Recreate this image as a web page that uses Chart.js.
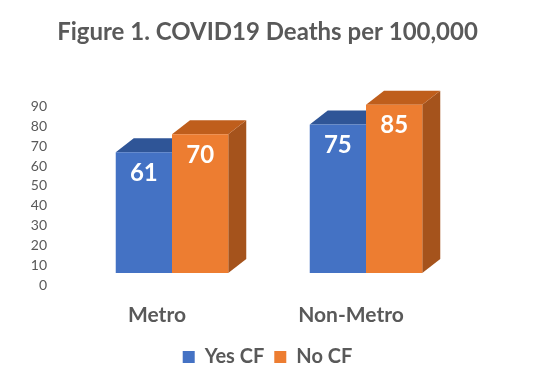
<!DOCTYPE html>
<html>
<head>
<meta charset="utf-8">
<script src="https://cdn.jsdelivr.net/npm/chart.js@4"></script>
<style>
  body { margin: 0; background: #fff; }
  #wrap { width: 538px; height: 388px; position: relative; }
</style>
</head>
<body>
<div id="wrap"><canvas id="myChart" width="538" height="388"></canvas></div>
<script>
// chart data
const categories = ['Metro', 'Non-Metro'];
const yesCF = [61, 75];
const noCF = [70, 85];
const seriesNames = ['Yes CF', 'No CF'];
const tickValues = [0, 10, 20, 30, 40, 50, 60, 70, 80, 90];

const FONT = 'Lato, "Open Sans", sans-serif';
const GREY = '#595959';

// draws the top and side faces so the bars look like excel 3D columns
const depthPlugin = {
    id: 'depth',
    beforeDatasetsDraw(chart) {
        const ctx = chart.ctx;
        const dx = 18, dy = 14;
        const tops = ['#2F5597', '#BF5E1C'];
        const sides = ['#2B4C87', '#A5531C'];
        chart.data.datasets.forEach((ds, i) => {
            chart.getDatasetMeta(i).data.forEach(bar => {
                const l = bar.x - bar.width / 2, r = bar.x + bar.width / 2;
                const t = bar.y, b = bar.base;
                ctx.save();
                ctx.fillStyle = sides[i];
                ctx.beginPath();
                ctx.moveTo(r, t); ctx.lineTo(r + dx, t - dy);
                ctx.lineTo(r + dx, b - dy); ctx.lineTo(r, b);
                ctx.closePath(); ctx.fill();
                ctx.fillStyle = tops[i];
                ctx.beginPath();
                ctx.moveTo(l, t); ctx.lineTo(l + dx, t - dy);
                ctx.lineTo(r + dx, t - dy); ctx.lineTo(r, t);
                ctx.closePath(); ctx.fill();
                ctx.restore();
            });
        });
    },
    afterDatasetsDraw(chart) {
        const ctx = chart.ctx;
        ctx.save();
        ctx.fillStyle = '#fff';
        ctx.font = 'bold 24px ' + FONT;
        ctx.textAlign = 'center';
        ctx.textBaseline = 'middle';
        chart.data.datasets.forEach((ds, i) => {
            chart.getDatasetMeta(i).data.forEach((bar, j) => {
                ctx.fillText(ds.data[j], bar.x, bar.y + 21);
            });
        });
        ctx.restore();
    }
};

const ctx = document.getElementById('myChart').getContext('2d');
const myChart = new Chart(ctx, {
    type: 'bar',
    data: {
        labels: categories,
        datasets: [{
            label: seriesNames[0],
            data: yesCF,
            backgroundColor: '#4472C4',
            yAxisID: 'bars',
            clip: false
        }, {
            label: seriesNames[1],
            data: noCF,
            backgroundColor: '#ED7D31',
            yAxisID: 'bars',
            clip: false
        }]
    },
    options: {
        responsive: false,
        animation: false,
        categoryPercentage: 0.58,
        barPercentage: 1,
        layout: { padding: { left: 0, right: 3, top: 0, bottom: 11 } },
        plugins: {
            title: {
                display: true,
                text: 'Figure 1. COVID19 Deaths per 100,000',
                color: GREY,
                font: { family: FONT, size: 24, weight: 'bold' },
                padding: { top: 18, bottom: 40 }
            },
            legend: {
                position: 'bottom',
                labels: {
                    color: GREY,
                    font: { family: FONT, size: 20, weight: 'bold' },
                    boxWidth: 12,
                    boxHeight: 12,
                    padding: 10
                }
            },
            tooltip: { enabled: false }
        },
        scales: {
            x: {
                grid: { display: false, drawTicks: false },
                border: { display: false },
                afterFit: axis => { axis.height = 52; },
                ticks: {
                    color: GREY,
                    font: { family: FONT, size: 21, weight: 'bold' },
                    padding: 18,
                    labelOffset: -15
                }
            },
            y: {
                position: 'left',
                min: 0,
                max: 100,
                grid: { display: false, drawTicks: false },
                border: { display: false },
                afterFit: axis => { axis.width = 75; },
                afterBuildTicks: axis => {
                    axis.ticks = tickValues.map(v => ({ value: v }));
                },
                ticks: {
                    color: GREY,
                    font: { family: FONT, size: 14 },
                    padding: 28
                }
            },
            bars: {
                display: false,
                min: -6,
                max: 94
            },
            spacer: {
                position: 'right',
                grid: { display: false, drawTicks: false },
                border: { display: false },
                ticks: { display: false },
                afterFit: axis => { axis.width = 72; }
            }
        }
    },
    plugins: [depthPlugin]
});
</script>
</body>
</html>
